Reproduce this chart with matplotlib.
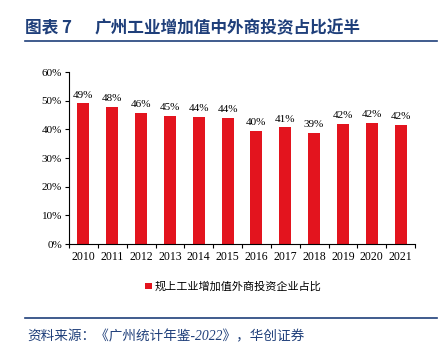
import matplotlib.pyplot as plt
import numpy as np

plt.rcParams['font.family'] = ['Liberation Serif', 'Noto Sans CJK SC']

years = ['2010', '2011', '2012', '2013', '2014', '2015',
         '2016', '2017', '2018', '2019', '2020', '2021']
share = [49.1, 47.9, 45.8, 44.8, 44.4, 43.9, 39.5, 40.7, 38.8, 42.0, 42.3, 41.5]
labels = ['49%', '48%', '46%', '45%', '44%', '44%', '40%', '41%', '39%', '42%', '42%', '42%']
series_name = '规上工业增加值外商投资企业占比'
title_no = '图表 7'
title = '广州工业增加值中外商投资占比近半'
source = '资料来源：《广州统计年鉴-2022》，华创证券'

navy = '#1F3F7A'
red = '#E3141E'

fig = plt.figure(figsize=(4.47, 3.55), dpi=100)
ax = fig.add_axes([69/447, 1 - 244/355, 346/447, 172/355])

x = np.arange(len(years))
ax.bar(x, share, width=0.42, color=red, label=series_name)
for xi, v, lab in zip(x, share, labels):
    ax.text(xi, v + 1.3, lab, ha='center', va='bottom', fontsize=8,
            family=['Liberation Serif'])

ax.set_xlim(-0.5, len(years) - 0.5)
ax.set_ylim(0, 60)
ax.set_yticks(range(0, 61, 10))
ax.set_yticklabels([f'{t}%' for t in range(0, 61, 10)])
# tick marks between the bars, year labels under them
ax.set_xticks(np.arange(-0.5, len(years), 1))
ax.set_xticklabels([])
ax.set_xticks(x, minor=True)
ax.set_xticklabels(years, minor=True)
ax.tick_params(axis='x', which='major', length=3, direction='out')
ax.tick_params(axis='x', which='minor', length=0, pad=5, labelsize=8.5)
ax.tick_params(axis='y', length=3, direction='out', labelsize=8, pad=2)
for s in ['top', 'right']:
    ax.spines[s].set_visible(False)
for s in ['left', 'bottom']:
    ax.spines[s].set_linewidth(0.8)

ax.legend(loc='upper center', bbox_to_anchor=(0.475, -0.16), frameon=False,
          handlelength=0.55, handleheight=0.55, handletextpad=0.25,
          prop={'family': ['Noto Sans CJK SC'], 'size': 8})

fig.text(25/447, 1 - 28/355, title_no, color=navy, fontsize=12, fontweight='bold',
         va='center', family=['Noto Sans CJK SC'])
fig.text(95/447, 1 - 28/355, title, color=navy, fontsize=12, fontweight='bold',
         va='center', family=['Noto Sans CJK SC'])
fig.add_artist(plt.Line2D([25/447, 437/447], [1 - 41/355] * 2, color=navy, lw=1.2))
fig.add_artist(plt.Line2D([25/447, 437/447], [1 - 318/355] * 2, color=navy, lw=1.2))
fig.text(27/447, 1 - 337/355, source, color=navy, fontsize=9.8, style='italic',
         va='center', family=['Liberation Serif', 'Noto Sans CJK SC'])

fig.savefig('out.png', dpi=100)
